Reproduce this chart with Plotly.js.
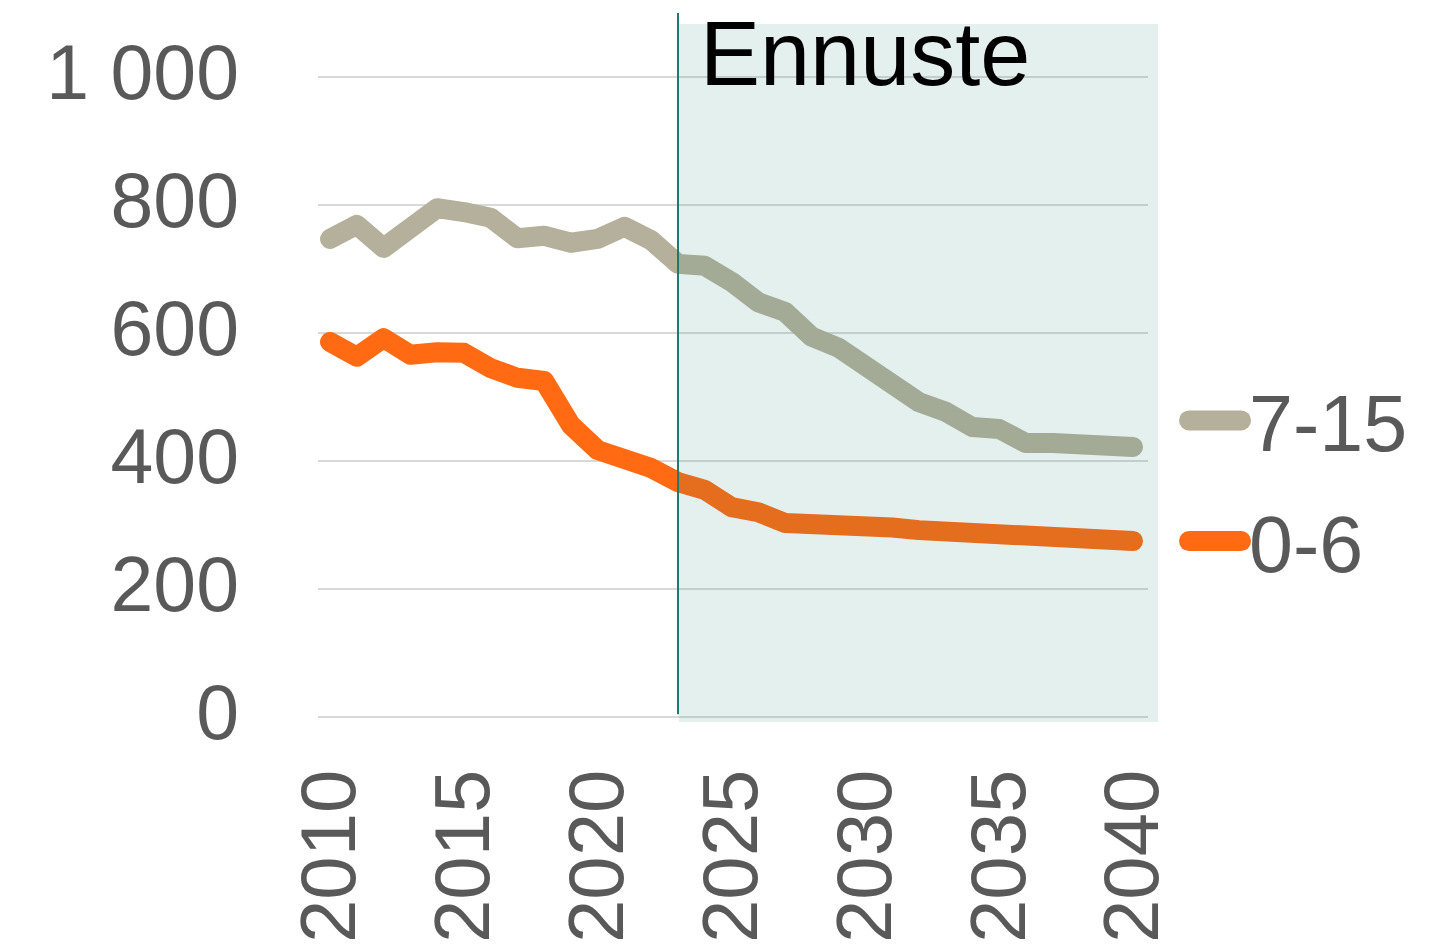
<!DOCTYPE html>
<html>
<head>
<meta charset="utf-8">
<script src="https://cdn.plot.ly/plotly-3.0.1.min.js"></script>
<style>
html,body{margin:0;padding:0;background:#fff;}
path.js-line{stroke-linecap:round !important;stroke-linejoin:round !important;}
</style>
</head>
<body>
<div id="chart" style="width:1456px;height:946px;"></div>
<script>
const years = [2010,2011,2012,2013,2014,2015,2016,2017,2018,2019,2020,2021,2022,2023,2024,2025,2026,2027,2028,2029,2030,2031,2032,2033,2034,2035,2036,2037,2038,2039,2040];
const age7to15 = [747,769,733,761,795,789,780,748,752,741,747,766,745,708,705,680,648,633,594,577,547,520,492,477,453,450,428,428,425,428,422];
const age0to6 = [586,563,592,566,570,569,545,530,525,456,417,405,389,367,355,328,320,303,303,300,302,296,292,289,286,284,281,279,278,277,275];
const seriesNames = ['7-15','0-6'];
const forecastStart = 2023;
const yTicks = [0,200,400,600,800,1000];
const xTicks = [2010,2015,2020,2025,2030,2035,2040];

const traces = [
  {x: years, y: age7to15, name: seriesNames[0], type: 'scatter', mode: 'lines',
   line: {color: '#b5b09b', width: 20}, legendgroup: 'a', hoverinfo: 'skip'},
  {x: years, y: age0to6, name: seriesNames[1], type: 'scatter', mode: 'lines',
   line: {color: '#ff6a13', width: 20}, legendgroup: 'b', hoverinfo: 'skip'}
];

const layout = {
  width: 1456, height: 946,
  margin: {l: 318, r: 308, t: 13, b: 224, pad: 0},
  paper_bgcolor: '#ffffff', plot_bgcolor: '#ffffff',
  font: {family: 'Liberation Sans, Arial, sans-serif', color: '#595959', size: 77},
  separators: '. ',
  showlegend: true,
  legend: {x: 1.0374, xanchor: 'left', y: 0.507, yanchor: 'top', itemwidth: 60,
           traceorder: 'grouped', tracegroupgap: 15, font: {size: 79, color: '#595959'},
           bgcolor: 'rgba(0,0,0,0)'},
  xaxis: {range: [2009.55, 2040.56], tickvals: xTicks, ticktext: xTicks.map(String),
          tickangle: -90, showgrid: false, zeroline: false, showline: false, ticks: '',
          ticklabelstandoff: 31, tickfont: {size: 78, color: '#595959'}},
  yaxis: {range: [-7.8, 1100], tickvals: yTicks, tickformat: ',d', separatethousands: true,
          showgrid: true, gridcolor: '#d9d9d9', gridwidth: 2, zeroline: false, showline: false,
          ticks: '', ticklabelstandoff: 78, ticklabelshift: -5, tickfont: {size: 77, color: '#595959'}},
  shapes: [
    {type: 'rect', xref: 'paper', yref: 'paper', x0: 0.435, x1: 1.012, y0: 0, y1: 0.9845,
     fillcolor: 'rgba(30,128,118,0.12)', line: {width: 0}, layer: 'above'},
    {type: 'line', xref: 'x', yref: 'paper', x0: forecastStart, x1: forecastStart, y0: 0.011, y1: 1,
     line: {color: '#1e7a6e', width: 2}, layer: 'above'}
  ],
  annotations: [
    {text: 'Ennuste', xref: 'paper', yref: 'paper', x: 0.4576, y: 1.016, xanchor: 'left', yanchor: 'top',
     showarrow: false, font: {size: 90, color: '#000000'}}
  ]
};

function fixLegend(gd) {
  const leg = gd.querySelector('.legend');
  if (!leg) return;
  leg.querySelectorAll('[clip-path]').forEach(function(el) { el.removeAttribute('clip-path'); });
  if (leg.hasAttribute('clip-path')) leg.removeAttribute('clip-path');
  leg.querySelectorAll('path.js-line').forEach(function(p) {
    p.style.strokeLinecap = 'round';
    p.style.strokeWidth = '20px';
    p.setAttribute('d', 'M10,0h52');
  });
}

Plotly.newPlot('chart', traces, layout, {displayModeBar: false, staticPlot: true}).then(function(gd) {
  fixLegend(gd);
});
</script>
</body>
</html>
